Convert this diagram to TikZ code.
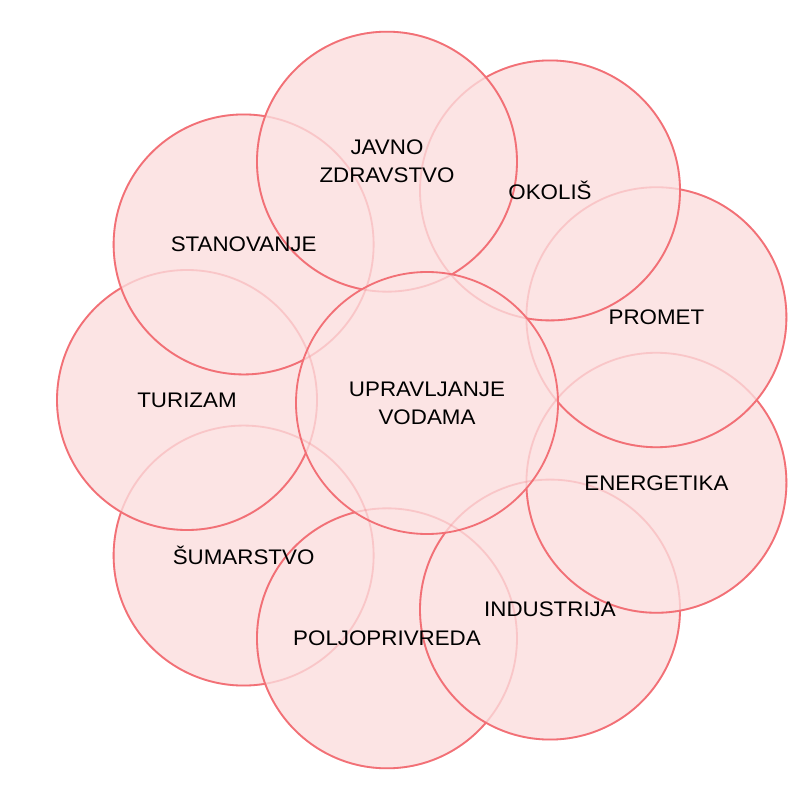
\documentclass[tikz,border=0pt]{standalone}
\usepackage{fontspec}
\setmainfont{Liberation Sans}[FakeStretch=1.06]
\usepackage{tikz}
\definecolor{rdeca}{RGB}{242,112,118}
\definecolor{roza}{RGB}{252,228,228}
\tikzstyle{krog} = [circle, minimum size=6.5cm, inner sep=0pt, draw=rdeca, line width=1.3pt, fill=roza]
\tikzstyle{sredisce} = [krog, minimum size=6.55cm]
\tikzstyle{sled} = [draw=rdeca, line width=1.3pt, draw opacity=0.25]
\tikzstyle{oznaka} = [align=center, text=black, font=\fontsize{15}{20}\selectfont]

\begin{document}
\begin{tikzpicture}

\useasboundingbox (0,0) rectangle (19.925,19.65);
\coordinate (sredina) at (10.725,9.65);

% krogi od spodaj navzgor
\node (sumarstvo) [krog] at ([shift={(220:6.05)}]sredina) {};
\node (poljo) [krog] at ([shift={(260:6.05)}]sredina) {};
\node (industrija) [krog] at ([shift={(300:6.05)}]sredina) {};
\node (energetika) [krog] at ([shift={(340:6.05)}]sredina) {};
\node (promet) [krog] at ([shift={(20:6.05)}]sredina) {};
\node (okolis) [krog] at ([shift={(60:6.05)}]sredina) {};
\node (turizam) [krog] at ([shift={(180:6.05)}]sredina) {};
\node (stanovanje) [krog] at ([shift={(140:6.05)}]sredina) {};
\node (zdravstvo) [krog] at ([shift={(100:6.05)}]sredina) {};
\node (vode) [sredisce] at (10.675,9.575) {};

% prekriti robovi
\foreach \k in {sumarstvo,poljo,industrija,energetika,promet,okolis,turizam,stanovanje,zdravstvo}
  \draw [sled] (\k.center) circle [radius=3.25cm];

% napisi
\node (tsumarstvo) [oznaka] at (sumarstvo) {ŠUMARSTVO};
\node (tpoljo) [oznaka] at (poljo) {POLJOPRIVREDA};
\node (tindustrija) [oznaka] at (industrija) {INDUSTRIJA};
\node (tenergetika) [oznaka] at (energetika) {ENERGETIKA};
\node (tpromet) [oznaka] at (promet) {PROMET};
\node (tokolis) [oznaka] at (okolis) {OKOLIŠ};
\node (tturizam) [oznaka] at (turizam) {TURIZAM};
\node (tstanovanje) [oznaka] at (stanovanje) {STANOVANJE};
\node (tzdravstvo) [oznaka] at (zdravstvo) {JAVNO\\ZDRAVSTVO};
\node (tvode) [oznaka] at (vode) {UPRAVLJANJE\\VODAMA};

\end{tikzpicture}
\end{document}
